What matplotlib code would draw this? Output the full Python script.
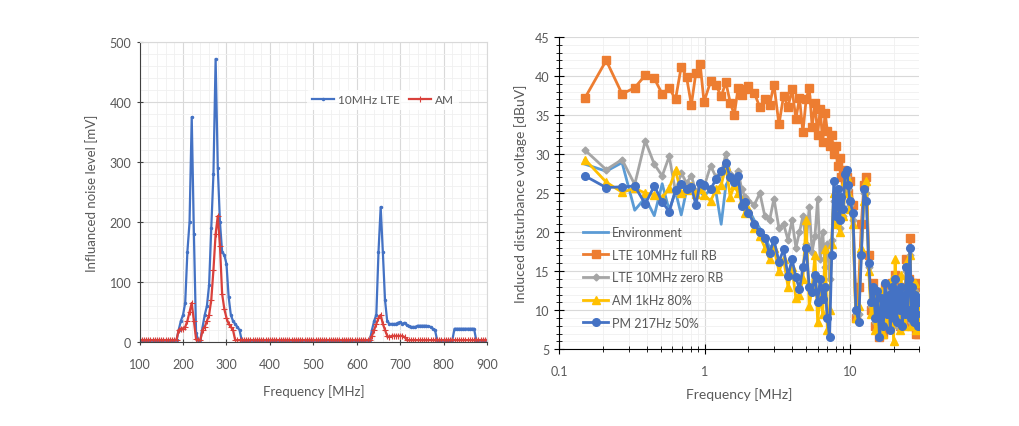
import numpy as np
import matplotlib
matplotlib.use("Agg")
import matplotlib.pyplot as plt
from matplotlib.ticker import MultipleLocator, FixedLocator, NullFormatter

plt.rcParams['font.family'] = ['Lato', 'DejaVu Sans']

# ---- left chart: 100-900 MHz sweep, 5 MHz steps
freq_left = np.arange(100, 905, 5)
lte_mv = [3, 3, 3, 3, 3, 3, 3, 3, 3, 3, 3, 3, 3, 3, 3, 3, 3, 3, 20, 35,
          45, 65, 150, 200, 375, 180, 15, 3, 3, 25, 45, 60, 95, 190, 280, 472, 290, 200, 150, 145,
          130, 75, 45, 35, 30, 25, 20, 3, 3, 3, 3, 3, 3, 3, 3, 3, 3, 3, 3, 3,
          3, 3, 3, 3, 3, 3, 3, 3, 3, 3, 3, 3, 3, 3, 3, 3, 3, 3, 3, 3,
          3, 3, 3, 3, 3, 3, 3, 3, 3, 3, 3, 3, 3, 3, 3, 3, 3, 3, 3, 3,
          3, 3, 3, 3, 3, 3, 3, 20, 35, 45, 150, 225, 150, 70, 35, 30, 30, 30, 30, 32,
          33, 30, 32, 28, 26, 25, 25, 25, 27, 27, 27, 27, 27, 26, 25, 22, 20, 3, 3, 3,
          3, 3, 3, 3, 3, 22, 22, 22, 22, 22, 22, 22, 22, 22, 22, 3, 3, 3, 3, 3,
          3]
am_mv = [3, 3, 3, 3, 3, 3, 3, 3, 3, 3, 3, 3, 3, 3, 3, 3, 3, 3, 20, 22,
         22, 25, 35, 50, 65, 35, 5, 3, 3, 20, 25, 35, 45, 70, 120, 180, 210, 160, 80, 55,
         40, 30, 25, 20, 3, 3, 3, 3, 3, 3, 3, 3, 3, 3, 3, 3, 3, 3, 3, 3,
         3, 3, 3, 3, 3, 3, 3, 3, 3, 3, 3, 3, 3, 3, 3, 3, 3, 3, 3, 3,
         3, 3, 3, 3, 3, 3, 3, 3, 3, 3, 3, 3, 3, 3, 3, 3, 3, 3, 3, 3,
         3, 3, 3, 3, 3, 3, 3, 10, 20, 30, 40, 45, 30, 20, 10, 8, 10, 10, 10, 10,
         10, 10, 8, 3, 3, 3, 3, 3, 3, 3, 3, 3, 3, 3, 3, 3, 3, 3, 3, 3,
         3, 3, 3, 3, 3, 3, 3, 3, 3, 3, 3, 3, 3, 3, 3, 3, 3, 3, 3, 3,
         3]

# ---- right chart: 0.15-30 MHz
freq_right = [0.15, 0.21, 0.27, 0.33, 0.39, 0.45, 0.51, 0.57, 0.63, 0.69, 0.75, 0.81, 0.87, 0.93, 0.99,
              1.1, 1.2, 1.3, 1.4, 1.5, 1.6, 1.7, 1.8, 1.9, 2.0, 2.2, 2.4, 2.6, 2.8, 3.0,
              3.25, 3.5, 3.75, 4.0, 4.25, 4.5, 4.75, 5.0, 5.25, 5.5, 5.75, 6.0, 6.25, 6.5,
              6.75, 7.0, 7.25, 7.5, 7.75, 8.0, 8.25, 8.5, 8.75, 9.0, 9.25, 9.5, 9.75, 10.0,
              10.5, 11, 11.5, 12, 12.5, 13, 13.5, 14, 14.5, 15, 15.5, 16, 16.5, 17, 17.5, 18,
              18.5, 19, 19.5, 20, 20.5, 21, 21.5, 22, 22.5, 23, 23.5, 24, 24.5, 25, 25.5, 26,
              26.5, 27, 27.5, 28, 28.5, 29, 29.5, 30]
env_freq = freq_right[:30]
environment = [28.7, 27.8, 28.9, 22.8, 24.4, 22.1, 26.2, 22.8, 25.2, 22.2, 25.3, 25.8, 24.5, 25.2, 24.6,
               25.5, 25.0, 21.0, 26.0, 27.0, 26.0, 25.5, 24.5, 23.5, 23.0, 21.5, 20.5, 19.5, 18.0, 18.5]
lte_full = [37.2, 42.0, 37.7, 38.5, 40.1, 39.7, 37.7, 38.5, 37.0, 41.2, 39.9, 36.3, 40.4, 41.6, 36.7,
            39.3, 38.8, 37.4, 39.2, 36.6, 35.0, 38.5, 37.6, 38.3, 38.7, 37.8, 36.0, 37.1, 36.3, 38.9,
            33.8, 37.5, 36.0, 38.3, 34.5, 37.2, 32.8, 37.0, 38.5, 33.5, 36.5, 32.5, 35.8, 31.5,
            35.2, 33.0, 31.0, 32.5, 30.0, 31.0, 28.5, 29.5, 27.0, 28.0, 26.0, 27.0, 25.0, 26.5,
            23.5, 9.0, 13.0, 21.0, 26.0, 27.0, 17.0, 10.0, 13.5, 8.0, 12.0, 6.5, 11.0, 7.0, 13.0, 8.0,
            12.5, 9.5, 13.5, 8.5, 14.5, 9.5, 12.5, 8.0, 13.0, 10.0, 12.0, 8.5, 16.5, 11.0, 14.0, 19.3,
            9.5, 13.5, 8.0, 13.0, 7.0, 13.5, 7.0, 13.0]
lte_zero = [30.5, 28.0, 29.3, 26.1, 31.7, 28.7, 27.2, 29.7, 25.2, 27.6, 26.3, 27.2, 25.2, 26.0, 25.8,
            28.5, 27.0, 27.5, 30.0, 27.5, 26.5, 27.8, 25.5, 24.5, 24.0, 23.5, 25.0, 22.0, 21.5, 24.3,
            20.5, 21.0, 19.0, 21.5, 18.0, 20.0, 22.0, 18.5, 23.2, 17.5, 19.5, 24.2, 16.5, 20.0,
            15.5, 18.5, 14.0, 19.0, 24.0, 21.5, 23.0, 20.5, 23.0, 22.0, 26.0, 27.0, 25.5, 23.5,
            21.5, 9.5, 9.5, 17.5, 25.0, 25.0, 15.5, 10.5, 12.5, 8.5, 12.0, 7.5, 11.0, 8.5, 12.5, 9.0,
            12.5, 8.0, 12.5, 9.5, 13.0, 8.0, 12.0, 9.5, 12.5, 8.5, 11.5, 9.0, 15.0, 10.5, 13.5, 17.0,
            8.5, 12.5, 9.0, 12.5, 8.0, 11.0, 8.5, 10.0]
am_1khz = [29.3, 26.4, 25.1, 25.6, 25.0, 24.8, 24.4, 25.6, 27.9, 25.0, 25.4, 25.9, 24.9, 25.5, 24.8,
           24.0, 25.5, 26.0, 28.5, 24.5, 26.0, 25.0, 24.0, 22.5, 23.0, 20.5, 19.5, 18.0, 16.5, 18.0,
           15.0, 16.5, 13.0, 15.5, 11.5, 12.0, 14.0, 21.5, 10.5, 13.0, 17.0, 8.5, 12.0, 9.5,
           17.8, 7.5, 10.0, 18.5, 25.0, 21.0, 24.5, 20.0, 23.5, 22.0, 26.5, 27.0, 25.0, 23.0,
           21.0, 9.0, 10.5, 18.0, 24.0, 26.5, 15.0, 9.5, 12.0, 7.5, 11.0, 8.0, 12.5, 7.0, 12.0, 8.5,
           11.0, 9.0, 14.0, 6.0, 16.5, 9.0, 12.0, 7.5, 14.5, 9.0, 11.0, 8.0, 16.0, 9.5, 13.0, 17.0,
           8.0, 12.0, 9.0, 13.5, 7.5, 12.0, 9.0, 10.5]
pm_217hz = [27.2, 25.7, 25.8, 25.9, 23.6, 25.9, 23.9, 22.6, 25.4, 26.1, 25.5, 25.8, 23.5, 26.3, 26.0,
            25.5, 26.8, 27.8, 28.8, 27.0, 26.4, 27.2, 23.4, 23.8, 22.5, 21.0, 20.0, 19.2, 17.3, 19.0,
            16.2, 17.8, 14.4, 16.5, 14.2, 12.7, 15.5, 18.0, 13.0, 12.3, 14.5, 11.0, 14.0, 11.4,
            13.0, 9.0, 6.5, 17.0, 26.5, 22.0, 25.5, 21.5, 24.5, 23.0, 27.5, 28.0, 26.0, 24.0,
            22.5, 10.0, 8.5, 17.0, 25.5, 24.0, 16.0, 11.0, 13.0, 9.0, 12.5, 6.5, 11.5, 8.0, 13.5, 9.5,
            12.0, 7.5, 13.0, 9.0, 14.0, 8.5, 12.5, 10.0, 13.0, 8.0, 12.0, 9.5, 15.5, 10.0, 14.0, 18.0,
            9.0, 13.0, 8.5, 12.0, 9.5, 11.5, 8.0, 11.0]

text_col = '#595959'
fig = plt.figure(figsize=(10.19, 4.27), dpi=100)

# ---------------- left
ax1 = fig.add_axes([0.137, 0.197, 0.341, 0.702])
ax1.plot(freq_left, lte_mv, color='#4472C4', lw=1.6, marker='.', ms=3, label='10MHz LTE')
ax1.plot(freq_left, am_mv, color='#D9403B', lw=1.6, marker='+', ms=4, mew=0.8, label='AM')
ax1.set_xlim(100, 900)
ax1.set_ylim(0, 500)
ax1.xaxis.set_major_locator(MultipleLocator(100))
ax1.yaxis.set_major_locator(MultipleLocator(100))
ax1.xaxis.set_minor_locator(MultipleLocator(20))
ax1.yaxis.set_minor_locator(MultipleLocator(20))
ax1.grid(which='major', color='#d9d9d9', lw=0.8)
ax1.grid(which='minor', color='#f0f0f0', lw=0.6)
ax1.set_axisbelow(True)
for s in ['top', 'right']:
    ax1.spines[s].set_color('#d9d9d9')
ax1.spines['left'].set_color('#404040')
ax1.spines['bottom'].set_color('#404040')
ax1.tick_params(which='major', direction='inout', length=5, colors='#404040',
                labelcolor=text_col, labelsize=9)
ax1.tick_params(axis='x', which='major', pad=9)
ax1.tick_params(which='minor', length=0)
ax1.set_xlabel('Frequency [MHz]', color=text_col, fontsize=9.5, labelpad=10)
ax1.set_ylabel('Influanced noise level [mV]', color=text_col, fontsize=9.5, labelpad=8)
leg1 = ax1.legend(loc='center', bbox_to_anchor=(0.70, 0.807), ncol=2, frameon=True,
                  fontsize=8.5, handlelength=1.9, columnspacing=0.8, handletextpad=0.3)
leg1.get_frame().set_edgecolor('none')
leg1.get_frame().set_facecolor('white')
for t in leg1.get_texts():
    t.set_color(text_col)

# ---------------- right
ax2 = fig.add_axes([0.549, 0.180, 0.353, 0.731])
ax2.plot(env_freq, environment, color='#5B9BD5', lw=2, label='Environment')
ax2.plot(freq_right, lte_full, color='#ED7D31', lw=2, marker='s', ms=5.5, label='LTE 10MHz full RB')
ax2.plot(freq_right, lte_zero, color='#A5A5A5', lw=2, marker='D', ms=3.5, label='LTE 10MHz zero RB')
ax2.plot(freq_right, am_1khz, color='#FFC000', lw=2, marker='^', ms=5.5, label='AM 1kHz 80%')
ax2.plot(freq_right, pm_217hz, color='#4472C4', lw=2, marker='o', ms=5.5, label='PM 217Hz 50%')
ax2.set_xscale('log')
ax2.set_xlim(0.1, 30)
ax2.set_ylim(5, 45)
ax2.xaxis.set_major_locator(FixedLocator([0.1, 1, 10]))
ax2.set_xticklabels(['0.1', '1', '10'])
ax2.xaxis.set_minor_locator(FixedLocator([m * d for d in [0.1, 1, 10] for m in range(2, 10) if m * d <= 30]))
ax2.xaxis.set_minor_formatter(NullFormatter())
ax2.yaxis.set_major_locator(MultipleLocator(5))
ax2.yaxis.set_minor_locator(MultipleLocator(1))
ax2.grid(which='major', color='#d9d9d9', lw=0.8)
ax2.grid(which='minor', color='#f0f0f0', lw=0.6)
ax2.set_axisbelow(True)
for s in ['top', 'right']:
    ax2.spines[s].set_visible(False)
ax2.spines['left'].set_color('black')
ax2.spines['bottom'].set_color('black')
ax2.tick_params(which='major', direction='inout', length=7, colors='black',
                labelcolor=text_col, labelsize=9)
ax2.tick_params(axis='x', which='major', pad=8)
ax2.tick_params(which='minor', direction='inout', length=5, colors='black')
ax2.set_xlabel('Frequency [MHz]', color=text_col, fontsize=10, labelpad=7)
ax2.set_ylabel('Induced disturbance voltage [dBuV]', color=text_col, fontsize=10, labelpad=6)
leg2 = ax2.legend(loc='lower left', bbox_to_anchor=(0.035, 0.03), frameon=False, fontsize=9,
                  handlelength=2.0, labelspacing=0.85, handletextpad=0.3)
for t in leg2.get_texts():
    t.set_color(text_col)

fig.savefig('out.png', dpi=100)
